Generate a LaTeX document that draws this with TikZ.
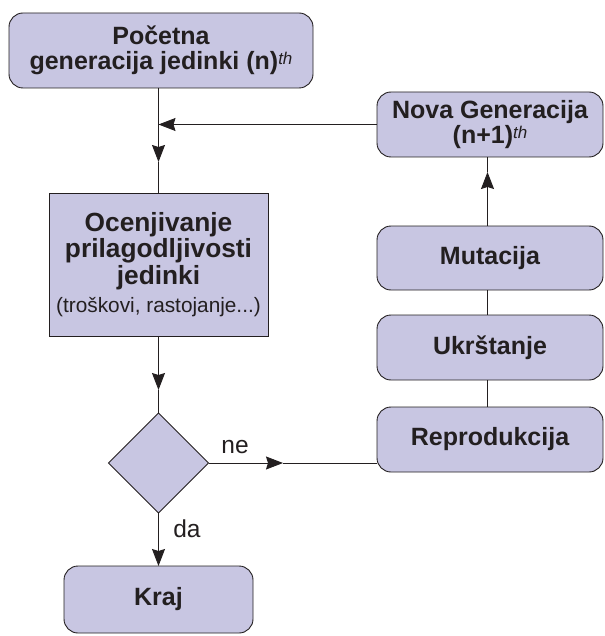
\documentclass[tikz,border=0pt]{standalone}
\usepackage{fontspec}
\setmainfont{Liberation Sans}
\usetikzlibrary{arrows.meta,shapes.geometric}
\definecolor{boxfill}{RGB}{200,198,226}
\definecolor{ink}{RGB}{35,31,32}
% italic ordinal suffix written above the line
\newcommand\ordsuffix{\raisebox{5pt}{\mdseries\itshape\fontsize{17}{17}\selectfont th}}
\begin{document}
\begin{tikzpicture}[x=1pt,y=-1pt,
  every node/.style={inner sep=0pt, outer sep=0pt, text=ink},
  stepbox/.style={draw=ink, line width=0.9pt, fill=boxfill, align=center,
    font=\bfseries\fontsize{25}{25.5}\selectfont},
  roundbox/.style={stepbox, rounded corners=14pt},
  decision/.style={diamond, aspect=1, draw=ink, line width=0.9pt, fill=boxfill,
    minimum width=100pt, minimum height=100pt},
  link/.style={draw=ink, line width=0.9pt},
  tip/.style={-{Stealth[length=17pt,width=13pt,inset=2pt]}},
  lbl/.style={font=\fontsize{24.5}{24.5}\selectfont}
]
\useasboundingbox (0,0) rectangle (604,636);

% left column: start, evaluation, decision, end
\node[roundbox, minimum width=304pt, minimum height=75pt] (start) at (161,50.5)
  {Početna\\generacija jedinki (n)\ordsuffix};
\node[stepbox, minimum width=219pt, minimum height=143pt,
      font=\bfseries\fontsize{26.3}{26.8}\selectfont] (eval) at (158.5,264.5)
  {Ocenjivanje\\prilagodljivosti\\jedinki\\[1pt]
   {\mdseries\fontsize{20.8}{22}\selectfont (troškovi, rastojanje...)}};
\node[decision] (dec) at (158.5,463) {};
\node[roundbox, minimum width=189pt, minimum height=67pt] (kraj) at (158.5,599.5) {Kraj};

% right column: genetic operators
\node[roundbox, minimum width=226pt, minimum height=65pt] (nova) at (490,124.5)
  {Nova Generacija\\(n+1)\ordsuffix};
\node[roundbox, minimum width=226pt, minimum height=64pt] (mut) at (490,258) {Mutacija};
\node[roundbox, minimum width=226pt, minimum height=65pt] (ukr) at (490,347.5) {Ukrštanje};
\node[roundbox, minimum width=226pt, minimum height=65pt] (repro) at (490,439.5) {Reprodukcija};

% helper points for mid-line arrow heads
\coordinate (colx) at (487.5,0);
\coordinate (a1) at (158.5,162);
\coordinate (a2) at (158.5,390);
\coordinate (a3) at (283,463);
\coordinate (a4) at (487.5,172);

% main flow
\draw[link, tip] (start.south -| eval.north) -- (a1);
\draw[link] (a1) -- (eval.north);
\draw[link, tip] (nova.west) -- (nova.west -| eval.north);
\draw[link, tip] (eval.south) -- (a2);
\draw[link] (a2) -- (dec.north);
\draw[link, tip] (dec.south) -- (kraj.north);
\draw[link, tip] (dec.east) -- (a3);
\draw[link] (a3) -- (a3 -| repro.west);

% right column links
\draw[link] (repro.north -| colx) -- (ukr.south -| colx);
\draw[link] (ukr.north -| colx) -- (mut.south -| colx);
\draw[link, tip] (mut.north -| colx) -- (a4);
\draw[link] (a4) -- (nova.south -| colx);

% branch labels
\node[lbl] (ne) at (235,447) {ne};
\node[lbl] (da) at (187,529) {da};
\end{tikzpicture}
\end{document}
